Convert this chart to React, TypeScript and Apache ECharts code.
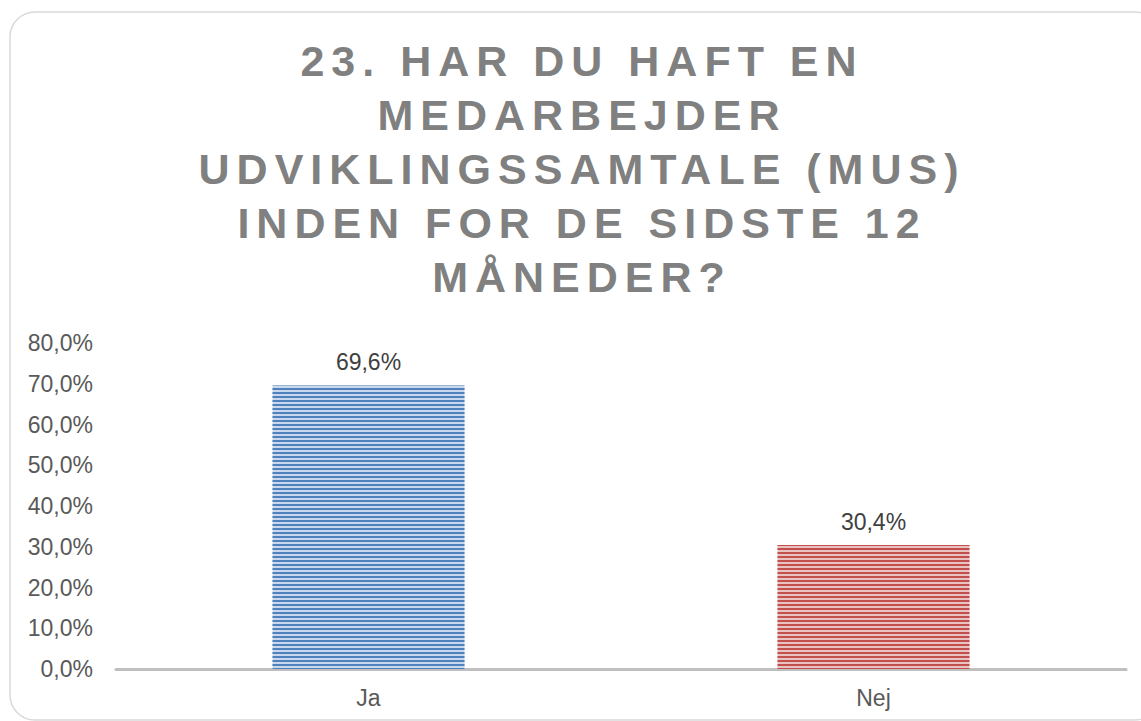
import React, { useEffect, useRef } from "react";
import * as echarts from "echarts";

const categories = ["Ja", "Nej"];
const values = [69.6, 30.4];
const yMin = 0;
const yMax = 80;
const yInterval = 10;
const titleLines = [
  "23. HAR DU HAFT EN",
  "MEDARBEJDER",
  "UDVIKLINGSSAMTALE (MUS)",
  "INDEN FOR DE SIDSTE 12",
  "MÅNEDER?",
];
const darkColors = ["#4f81bd", "#c0504d"];
const lightColors = ["#c9d8ec", "#ebc2c1"];

const FONT = "'Liberation Sans', Arial, Helvetica, sans-serif";
const fmt = (v: number) => v.toFixed(1).replace(".", ",") + "%";

export default function App() {
  const ref = useRef<HTMLDivElement>(null);
  useEffect(() => {
    if (!ref.current) return;
    const chart = echarts.init(ref.current, undefined, { renderer: "svg" });
    const option: any = {
      animation: false,
      backgroundColor: "#ffffff",
      graphic: [
        {
          type: "rect",
          shape: { x: 10, y: 12, width: 1150, height: 708, r: 25 },
          style: { fill: "none", stroke: "#d9d9d9", lineWidth: 1.5 },
          silent: true,
        },
        {
          type: "text",
          x: 582,
          y: 34,
          silent: true,
          style: {
            text: titleLines.join("\n"),
            fontFamily: FONT,
            fontSize: 43,
            fontWeight: "bold",
            fill: "#808080",
            textAlign: "center",
            textVerticalAlign: "top",
            lineHeight: 54,
          },
        },
      ],
      grid: { left: 116, right: 15, top: 343, bottom: 52, containLabel: false },
      xAxis: {
        type: "category",
        data: categories,
        axisLine: { show: true, lineStyle: { color: "#bfbfbf", width: 3 } },
        axisTick: { show: false },
        axisLabel: { color: "#595959", fontSize: 23, fontFamily: FONT, margin: 17 },
      },
      yAxis: {
        type: "value",
        min: yMin,
        max: yMax,
        interval: yInterval,
        axisLine: { show: false },
        axisTick: { show: false },
        splitLine: { show: false },
        axisLabel: {
          color: "#595959",
          fontSize: 23,
          fontFamily: FONT,
          margin: 23,
          formatter: (v: number) => fmt(v),
        },
      },
      series: [
        {
          type: "bar",
          barWidth: 192,
          data: values.map((v, i) => ({
            value: v,
            itemStyle: {
              color: lightColors[i],
              decal: {
                symbol: "rect",
                symbolSize: 1,
                dashArrayX: [1, 0],
                dashArrayY: [2, 2],
                rotation: 0,
                color: darkColors[i],
              },
            },
          })),
          label: {
            show: true,
            position: "top",
            distance: 12,
            color: "#404040",
            fontSize: 23,
            fontFamily: FONT,
            formatter: (p: any) => fmt(p.value),
          },
          emphasis: { disabled: true },
        },
      ],
    };
    chart.setOption(option);
    const apply = () => {
      const el = ref.current;
      if (!el) return;
      el.querySelectorAll("text").forEach((t) => {
        if (titleLines.includes((t.textContent || "").trim())) {
          (t as any).style.letterSpacing = "7px";
        }
      });
    };
    chart.on("finished", apply);
    apply();
    const t1 = setTimeout(apply, 0);
    const t2 = setTimeout(apply, 200);
    return () => {
      clearTimeout(t1);
      clearTimeout(t2);
      chart.dispose();
    };
  }, []);
  return (
    <div
      ref={ref}
      style={{ position: "fixed", left: 0, top: 0, width: 1141, height: 721 }}
    />
  );
}
